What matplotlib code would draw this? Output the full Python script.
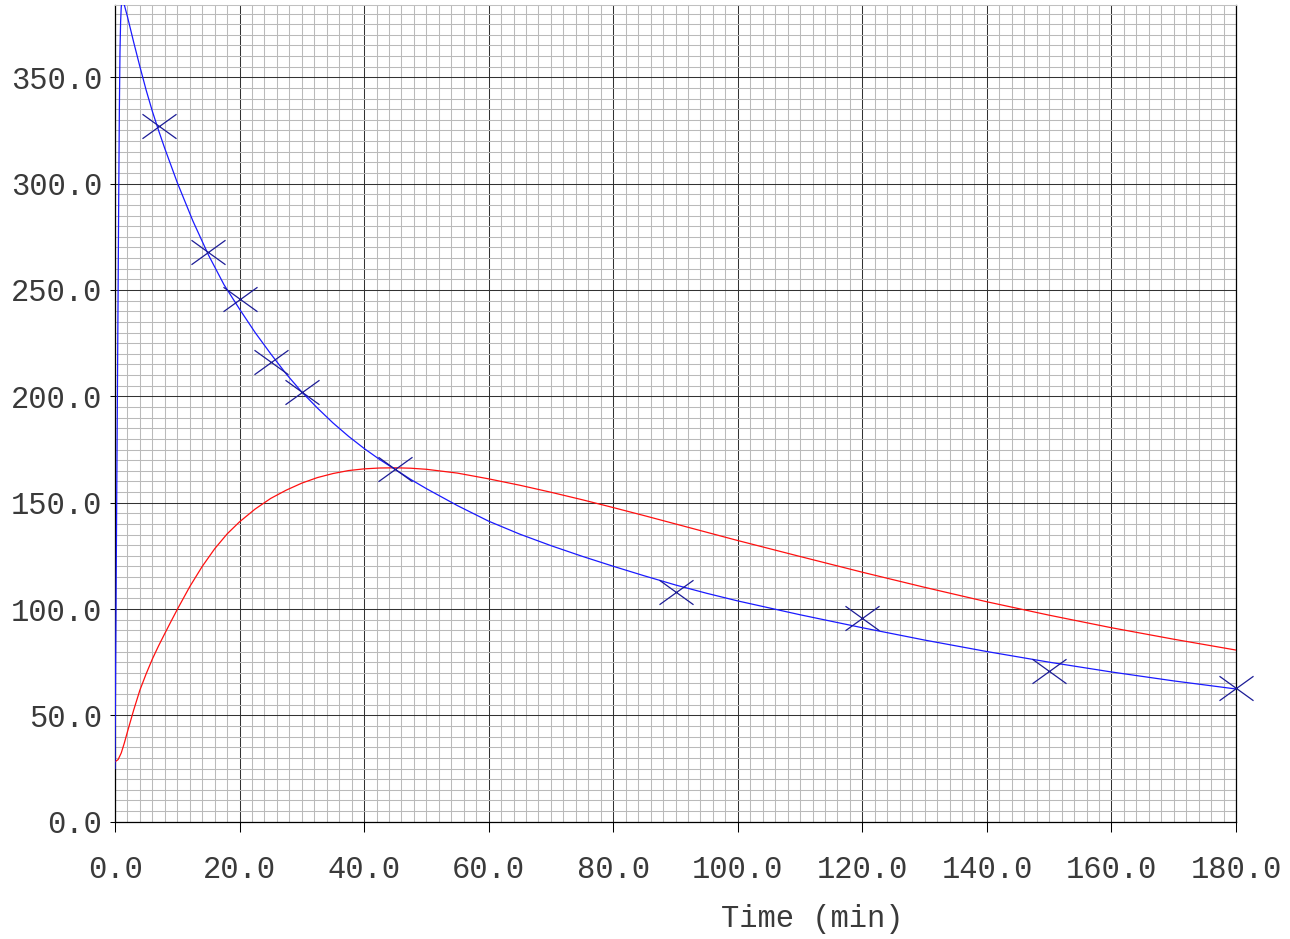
import numpy as np
import matplotlib.pyplot as plt
from matplotlib.path import Path
from matplotlib.ticker import MultipleLocator, FormatStrFormatter

# fitted model curve (blue)
fit_t = [0, 0.1, 0.2, 0.3, 0.4, 0.5, 0.6, 0.7, 0.8, 0.9, 1.0, 1.1, 1.2, 1.5,
         2, 2.5, 3, 4, 5, 6, 7, 8, 10, 12.5, 15, 17.5, 20, 22.5, 25, 27.5,
         30, 32.5, 35, 37.5, 40, 42.5, 45, 47.5, 50, 55, 60, 65, 70, 75, 80,
         85, 90, 95, 100, 110, 120, 130, 140, 150, 160, 170, 180]
fit_c = [25, 72, 118, 163, 207, 250, 295, 335, 362, 376, 383, 386, 386.3, 384,
         378.5, 372.5, 366.5, 355, 344, 334, 325, 316.5, 300.5, 282.5, 266.5, 252.5, 241, 230, 220, 210.5,
         202, 194.5, 187.5, 181.2, 175.5, 170.3, 165.6, 160.9, 156.6, 148.6, 141.3, 135.2, 129.8, 124.8, 120.1,
         115.6, 111.3, 107.4, 103.8, 97.3, 91.2, 85.4, 80, 75, 70.4, 66.2, 62.4]

# second curve (red)
red_t = [0, 0.5, 1, 1.5, 2, 3, 4, 5, 6, 7, 8, 9, 10, 12, 14, 16, 18, 20,
         22.5, 25, 27.5, 30, 32.5, 35, 37.5, 40, 42.5, 45, 47.5, 50, 55, 60,
         65, 70, 75, 80, 85, 90, 95, 100, 110, 120, 130, 140, 150, 160, 170, 180]
red_c = [28.2, 29.2, 32.3, 37, 42.3, 52.5, 61.9, 69.5, 76.5, 82.7, 88.5, 94.2, 99.8, 110.5, 120, 128.3, 135.3, 141,
         147, 152, 155.9, 159.2, 161.8, 163.7, 165.1, 165.9, 166.3, 166.4, 166.2, 165.7, 163.9, 161.2,
         158.2, 154.9, 151.4, 147.7, 143.9, 140.0, 136.1, 132.2, 124.7, 117.3, 110.2, 103.4, 97.1, 91.2, 85.8, 80.7]

# observed samples
obs_t = [7, 15, 20, 25, 30, 45, 90, 120, 150, 180]
obs_c = [327, 268, 246, 216, 202, 166, 108, 96, 71, 63]

mono = 'Liberation Mono'
plt.rcParams['font.family'] = [mono, 'DejaVu Sans']
txt_color = '#3a3a3a'
fsize = 22

fig = plt.figure(figsize=(12.9, 9.39), dpi=100)
ax = fig.add_axes([115 / 1290, 117.3 / 939, 1121 / 1290, 816.7 / 939])

# stretched X marker
wx, hy = 1.0, 0.72
xmark = Path([(-wx, -hy), (wx, hy), (-wx, hy), (wx, -hy)],
             [Path.MOVETO, Path.LINETO, Path.MOVETO, Path.LINETO])

ax.plot(red_t, red_c, color='#ff1010', lw=0.9, zorder=3)
ax.plot(fit_t, fit_c, color='#1a1aff', lw=0.9, zorder=3)
ax.plot(obs_t, obs_c, linestyle='none', marker=xmark, markersize=24.5,
        markeredgewidth=0.9, color='#1c1c96', zorder=4, clip_on=False)

ax.set_xlim(0, 180)
ax.set_ylim(0, 384)

ax.xaxis.set_major_locator(MultipleLocator(20))
ax.xaxis.set_minor_locator(MultipleLocator(2))
ax.yaxis.set_major_locator(MultipleLocator(50))
ax.yaxis.set_minor_locator(MultipleLocator(5))
ax.xaxis.set_major_formatter(FormatStrFormatter('%.1f'))
ax.yaxis.set_major_formatter(FormatStrFormatter('%.1f'))

ax.grid(which='minor', color='#bababa', lw=0.75)
ax.grid(which='major', color='#333333', lw=0.75)

ax.tick_params(axis='x', which='major', length=7.2, width=0.75, direction='out',
               pad=16.5, labelsize=fsize, labelcolor=txt_color)
ax.tick_params(axis='y', which='major', length=3.6, width=0.75, direction='out',
               pad=5.5, labelsize=fsize, labelcolor=txt_color)
ax.tick_params(which='minor', length=0)

for side in ['left', 'bottom', 'right']:
    ax.spines[side].set_color('black')
    ax.spines[side].set_linewidth(0.9)
ax.spines['top'].set_color('#c0c0c0')
ax.spines['top'].set_linewidth(0.75)

fig.text(812 / 1290, 1 - 919 / 939, 'Time (min)', ha='center', va='center',
         fontsize=fsize, color=txt_color, family=mono)

fig.savefig('out.png', dpi=100)
